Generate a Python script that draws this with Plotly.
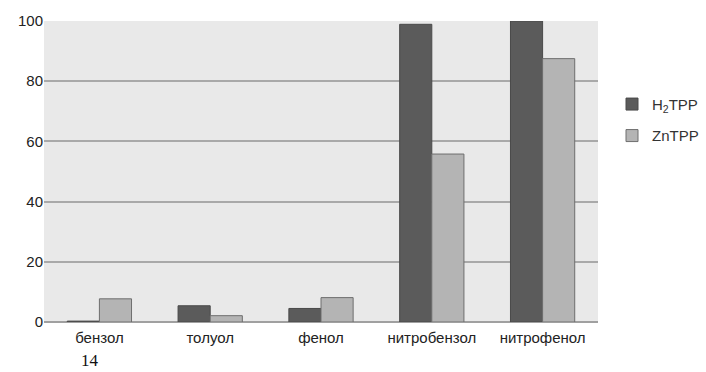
import plotly.graph_objects as go

categories = ["бензол", "толуол", "фенол", "нитробензол", "нитрофенол"]
h2tpp = [0.3, 5.4, 4.5, 98.9, 100]
zntpp = [7.7, 2.1, 8.1, 55.8, 87.5]
y_ticks = [0, 20, 40, 60, 80, 100]

W = 706 - 44  # paper width
fig = go.Figure()
fig.add_trace(go.Bar(x=categories, y=h2tpp, name="H<sub>2</sub>TPP", legendgroup="a",
                     marker=dict(color="#5b5b5b", line=dict(color="#4a4a4a", width=1))))
fig.add_trace(go.Bar(x=categories, y=zntpp, name="ZnTPP", legendgroup="b",
                     marker=dict(color="#b4b4b4", line=dict(color="#6e6e6e", width=1))))

fig.update_layout(
    width=706, height=372,
    margin=dict(l=44, r=0, t=21, b=50),
    paper_bgcolor="white",
    plot_bgcolor="#e9e9e9",
    barmode="group",
    bargap=0.42,
    bargroupgap=0,
    font=dict(family="Liberation Sans, Arial, sans-serif", size=15, color="#222"),
    showlegend=True,
    legend=dict(x=(612 - 44) / W, y=0.778, xanchor="left", yanchor="top",
                font=dict(size=15, color="#333"), bgcolor="rgba(0,0,0,0)",
                tracegroupgap=9),
    xaxis=dict(domain=[0, 554 / W], showgrid=False, showline=False, ticks="", automargin=False,
               ticklabelstandoff=5, tickfont=dict(size=15, color="#222")),
    yaxis=dict(range=[0, 100], tickvals=y_ticks, showgrid=True, gridcolor="#a9a9a9",
               gridwidth=1.5, zeroline=True, zerolinecolor="#a0a0a0", zerolinewidth=2,
               showline=False, ticks="", automargin=False,
               tickfont=dict(size=15, color="#222")),
    annotations=[dict(text="14", xref="paper", yref="paper", x=(90 - 44) / W,
                      y=-(349 - 322) / 301, xanchor="center", yanchor="top",
                      showarrow=False,
                      font=dict(family="Liberation Serif, Times New Roman, serif", size=17, color="#111"))],
)

fig.write_html("out.html", config={"displayModeBar": False},
               post_script="document.body.style.margin='0';document.body.style.overflow='hidden';")
